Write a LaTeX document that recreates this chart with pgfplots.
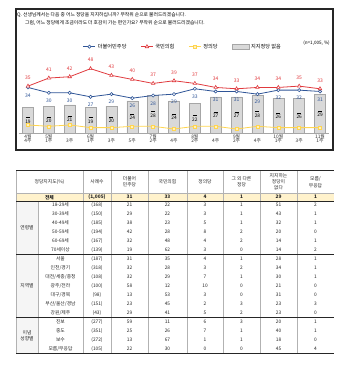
\documentclass[border=0pt]{standalone}
\usepackage{fontspec}
\setmainfont{Noto Sans CJK KR}
\usepackage{pgfplots}
\pgfplotsset{compat=1.18}
\definecolor{cblue}{HTML}{2F5597}
\definecolor{cred}{HTML}{E03A3E}
\definecolor{cyel}{HTML}{FFD54F}
\definecolor{cbar}{HTML}{D9D9D9}
\definecolor{cbaredge}{HTML}{A6A6A6}
\definecolor{ctot}{HTML}{FFF2CC}
\newcommand\fs[1]{\fontsize{#1}{#1}\selectfont}
\newcommand\trow[9]{%
  \node at (60.5pt,-#1pt) {#2};
  \node at (97pt,-#1pt) {#3};
  \node at (129.5pt,-#1pt) {#4};
  \node at (167.5pt,-#1pt) {#5};
  \node at (205pt,-#1pt) {#6};
  \node at (241.5pt,-#1pt) {#7};
  \node at (278.5pt,-#1pt) {#8};
  \node at (315.5pt,-#1pt) {#9};}
\begin{document}
\begin{tikzpicture}[x=1pt,y=1pt]
\path[use as bounding box] (0,0) rectangle (356,-376);
% chart frame
\draw[line width=1.1pt, black!85] (16,-9) rectangle (333,-150);
\node[anchor=west, font=\fs{4.8}, inner sep=0] at (17,-15) {Q. 선생님께서는 다음 중 어느 정당을 지지하십니까? 무작위 순으로 불러드리겠습니다.};
\node[anchor=west, font=\fs{4.8}, inner sep=0] at (25,-23.3) {그럼, 어느 정당에게 조금이라도 더 호감이 가는 편인가요? 무작위 순으로 불러드리겠습니다.};
\node[anchor=east, font=\fs{4.6}, inner sep=0] at (330,-43) {(n=1,005, \%)};

\begin{axis}[
  x=20.86pt, y=1.34pt,
  xmin=-0.45, xmax=14.45, ymin=0, ymax=50,
  at={(18.6pt,-133pt)}, anchor=south west,
  axis y line=none, axis x line*=bottom,
  x axis line style={-, gray!70, line width=0.8pt},
  xtick={0,...,14}, major tick length=0pt,
  xticklabels={{4월\\4주},{5월\\1주},{\vphantom{월}\\3주},{6월\\1주},{\vphantom{월}\\3주},{\vphantom{월}\\5주},{7월\\2주},{\vphantom{월}\\4주},{8월\\2주},{\vphantom{월}\\4주},{9월\\2주},{\vphantom{월}\\4주},{10월\\1주},{\vphantom{월}\\3주},{11월\\1주}},
  xticklabel style={align=center, font=\fs{4.8}, inner sep=1pt, text=black!80},
  clip=false,
  /pgf/number format/assume math mode=true,
  legend style={at={(0.529,1.288)}, anchor=center, draw=none, fill=none,
     legend columns=4, font=\fs{5.2}, inner sep=0pt,
     /tikz/every even column/.append style={column sep=12pt}},
  legend image code/.code={\draw[mark repeat=2,mark phase=2,#1] plot coordinates {(0pt,0pt) (6pt,0pt) (12pt,0pt)};},
]
\addplot[ybar, bar width=11pt, fill=cbar, draw=cbaredge, line width=0.5pt, forget plot,
  nodes near coords={\rule{4pt}{0.9pt}\\\pgfmathprintnumber{\pgfplotspointmeta}},
  visualization depends on={y \as \rawy},
  every node near coord/.append style={anchor=center, align=center, font=\fs{4.8}, yshift={-0.67pt*\rawy}, text=black}]
  coordinates {(0,19) (1,20) (2,21) (3,19) (4,20) (5,24) (6,28) (7,24) (8,22) (9,27) (10,27) (11,28) (12,26) (13,26) (14,29)};
\addplot[cblue, line width=0.8pt, mark=*, mark size=1.6pt, mark options={fill=white, draw=cblue, line width=0.6pt},
  nodes near coords, every node near coord/.append style={anchor=north, text=cblue, font=\fs{5}, yshift=-2.5pt}]
  coordinates {(0,34) (1,30) (2,30) (3,27) (4,29) (5,26) (6,28) (7,29) (8,33) (9,31) (10,31) (11,29) (12,32) (13,32) (14,31)};
\addlegendentry{더불어민주당}
\addplot[cred, line width=0.8pt, mark=triangle*, mark size=2pt, mark options={fill=white, draw=cred, line width=0.6pt},
  nodes near coords, every node near coord/.append style={anchor=south, text=cred, font=\fs{5}, yshift=3pt}]
  coordinates {(0,35) (1,41) (2,42) (3,48) (4,43) (5,40) (6,37) (7,39) (8,37) (9,34) (10,33) (11,34) (12,34) (13,35) (14,33)};
\addlegendentry{국민의힘}
\addplot[cyel, line width=0.8pt, mark=square*, mark size=1.5pt, mark options={fill=cyel!35, draw=cyel, line width=0.6pt}]
  coordinates {(0,6) (1,5) (2,6) (3,4) (4,4) (5,5) (6,5) (7,3) (8,5) (9,5) (10,3) (11,5) (12,4) (13,4) (14,4)};
\addlegendentry{정의당}
\addlegendimage{area legend, fill=cbar, draw=cbaredge}
\addlegendentry{지지정당 없음}
\end{axis}

% ---------- table ----------
\fill[ctot] (16,-193.5) rectangle (334,-201);
\fill[gray!8] (16,-201) rectangle (38,-353.5);
\begin{scope}[gray!60, line width=0.5pt]
  \foreach \cx in {83,111,148,187,223,260,297} \draw (\cx,-170) -- (\cx,-353.5);
  \draw (38,-201) -- (38,-353.5);
  \draw (16,-170) -- (16,-353.5);
  \draw (16,-193.5) -- (334,-193.5);
\end{scope}
\begin{scope}[black!85, line width=0.8pt]
  \draw (16,-170) -- (334,-170);
  \draw (16,-201) -- (334,-201);
  \draw (16,-254.5) -- (334,-254.5);
  \draw (16,-317.5) -- (334,-317.5);
  \draw[line width=1pt] (16,-353.5) -- (334,-353.5);
\end{scope}
\begin{scope}[every node/.style={font=\fs{4.8}, align=center, inner sep=0pt, text=black!85}]
  \node at (49.5,-182) {정당지지도(\%)};
  \node at (97,-182) {사례수};
  \node at (129.5,-182) {더불어\\[1pt]민주당};
  \node at (167.5,-182) {국민의힘};
  \node at (205,-182) {정의당};
  \node at (241.5,-182) {그 외 다른\\[1pt]정당};
  \node at (278.5,-182) {지지하는\\[1pt]정당이\\[1pt]없다};
  \node at (315.5,-182) {모름/\\[1pt]무응답};
  % total row
  \node[font=\fs{4.8}\bfseries] at (49.5,-197.25) {전체};
  \begin{scope}[every node/.append style={font=\fs{4.8}\bfseries}]
  \node at (97,-197.25) {(1,005)};
  \node at (129.5,-197.25) {31};
  \node at (167.5,-197.25) {33};
  \node at (205,-197.25) {4};
  \node at (241.5,-197.25) {1};
  \node at (278.5,-197.25) {29};
  \node at (315.5,-197.25) {1};
  \end{scope}
  % group labels
  \node at (27,-227.75) {연령별};
  \node at (27,-286) {지역별};
  \node at (27,-335.5) {이념\\[1pt]성향별};
  % age
  \trow{205}{18-29세}{(168)}{21}{22}{3}{1}{51}{2}
  \trow{214}{30-39세}{(150)}{29}{22}{3}{1}{43}{1}
  \trow{223}{40-49세}{(185)}{38}{23}{5}{1}{32}{1}
  \trow{232}{50-59세}{(194)}{42}{28}{8}{2}{20}{0}
  \trow{241}{60-69세}{(167)}{32}{48}{4}{2}{14}{1}
  \trow{250}{70세이상}{(139)}{19}{62}{3}{0}{14}{2}
  % region
  \trow{259}{서울}{(187)}{31}{35}{4}{1}{28}{1}
  \trow{268}{인천/경기}{(318)}{32}{28}{3}{2}{34}{1}
  \trow{277}{대전/세종/충청}{(108)}{32}{29}{7}{1}{30}{1}
  \trow{286}{광주/전라}{(100)}{58}{12}{10}{0}{21}{0}
  \trow{295}{대구/경북}{(98)}{13}{53}{3}{0}{31}{0}
  \trow{304}{부산/울산/경남}{(151)}{23}{45}{2}{3}{23}{3}
  \trow{313}{강원/제주}{(43)}{29}{41}{5}{2}{23}{0}
  % ideology
  \trow{322}{진보}{(277)}{59}{11}{6}{3}{20}{1}
  \trow{331}{중도}{(351)}{25}{26}{7}{1}{40}{1}
  \trow{340}{보수}{(272)}{13}{67}{1}{1}{18}{0}
  \trow{349}{모름/무응답}{(105)}{22}{30}{0}{0}{45}{4}
\end{scope}
\end{tikzpicture}
\end{document}
